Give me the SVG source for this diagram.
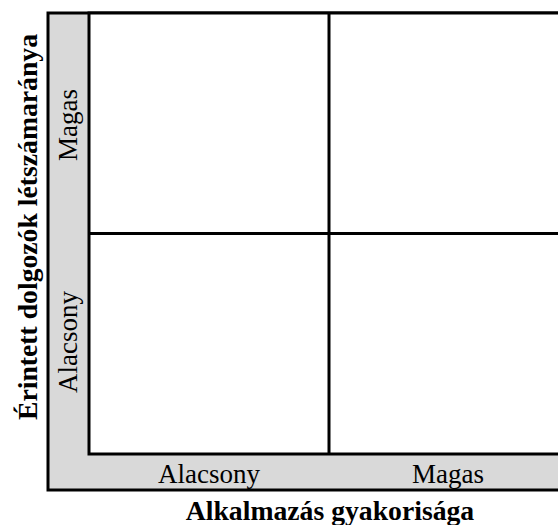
<svg xmlns="http://www.w3.org/2000/svg" width="558" height="525" viewBox="0 0 558 525">
<style>
.lbl{font-family:"Liberation Serif","Times New Roman",serif;font-size:27px;fill:#000;text-anchor:middle}
.ttl{font-family:"Liberation Serif","Times New Roman",serif;font-size:27.7px;font-weight:bold;fill:#000;text-anchor:middle}
.ln{stroke:#000;stroke-width:3;fill:none}
</style>
<rect width="558" height="525" fill="#fff"/>
<g id="frame">
<rect x="48" y="13" width="530" height="477" fill="#d9d9d9" stroke="#000" stroke-width="3"/>
<rect x="89" y="13" width="480" height="441" fill="#fff" stroke="#000" stroke-width="3"/>
</g>
<g id="connectors">
<line class="ln" x1="329" y1="13" x2="329" y2="454"/>
<line class="ln" x1="89" y1="233.5" x2="569" y2="233.5"/>
</g>
<g id="y-high"><text class="lbl" transform="translate(77,125) rotate(-90)">Magas</text></g>
<g id="y-low"><text class="lbl" transform="translate(77,342) rotate(-90)">Alacsony</text></g>
<g id="x-low"><text class="lbl" x="209" y="483">Alacsony</text></g>
<g id="x-high"><text class="lbl" x="448" y="483">Magas</text></g>
<g id="x-title"><text class="ttl" x="330" y="520">Alkalmazás gyakorisága</text></g>
<g id="y-title"><text class="ttl" transform="translate(37,227) rotate(-90)">Érintett dolgozók létszámaránya</text></g>
</svg>
